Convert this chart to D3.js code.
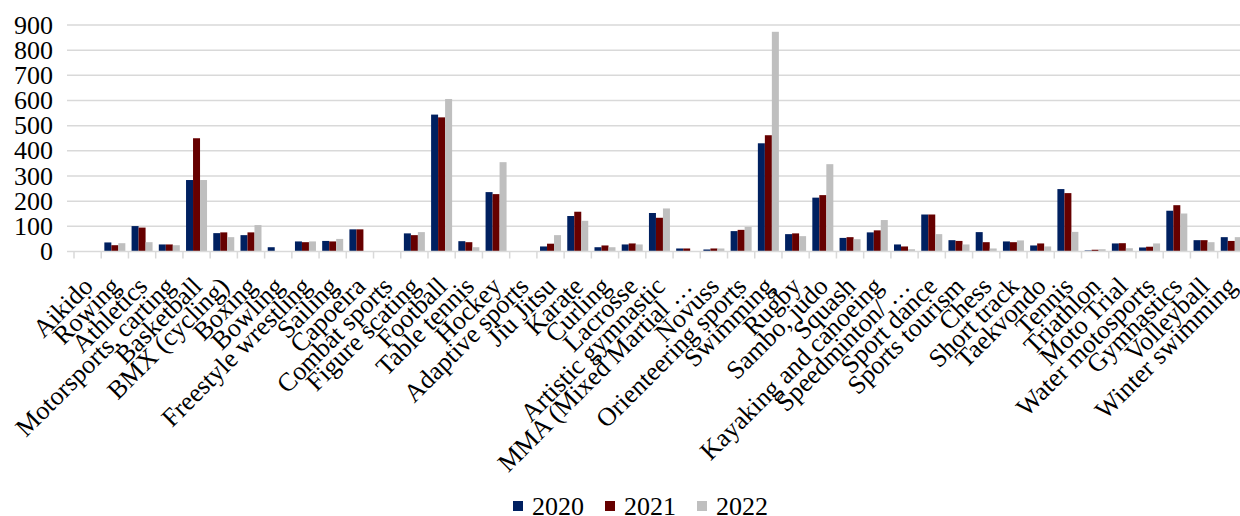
<!DOCTYPE html>
<html>
<head>
<meta charset="utf-8">
<script src="https://cdn.jsdelivr.net/npm/d3@7"></script>
<style>
  body { margin: 0; background: #fff; }
  svg { display: block; font-family: "Liberation Serif", "Times New Roman", serif; }
</style>
</head>
<body>
<div id="chart"></div>
<script>
// categories and values
var categories = ["Aikido", "Rowing", "Athletics", "Motorsports, carting", "Basketball",
  "BMX (cycling)", "Boxing", "Bowling", "Freestyle wrestling", "Sailing", "Capoeira",
  "Combat sports", "Figure scating", "Football", "Table tennis", "Hockey", "Adaptive sports",
  "Jiu Jitsu", "Karate", "Curling", "Lacrosse", "Artistic gymnastic", "MMA (Mixed Martial …",
  "Novuss", "Orienteering sports", "Swimming", "Rugby", "Sambo, judo", "Squash",
  "Kayaking and canoeing", "Speedminton/ …", "Sport dance", "Sports tourism", "Chess",
  "Short track", "Taekvondo", "Tennis", "Triathlon", "Moto Trial", "Water motosports",
  "Gymnastics", "Volleyball", "Winter swimming"];

var years = ["2020", "2021", "2022"];

var values2020 = [0, 36, 101, 28, 284, 73, 65, 17, 40, 42, 88, 0, 72, 544, 41, 236, 0,
  20, 141, 17, 28, 153, 12, 8, 81, 430, 69, 214, 54, 76, 28, 147, 45, 77, 40, 24, 248,
  4, 32, 16, 162, 45, 57];
var values2021 = [0, 25, 95, 28, 450, 76, 76, 0, 37, 40, 88, 0, 65, 533, 37, 228, 0,
  31, 158, 24, 32, 134, 12, 12, 86, 462, 72, 224, 57, 84, 20, 147, 42, 37, 37, 32, 232,
  7, 33, 19, 184, 45, 42];
var values2022 = [0, 33, 37, 25, 284, 57, 105, 0, 40, 50, 0, 0, 77, 606, 17, 355, 0,
  65, 122, 17, 28, 171, 0, 12, 98, 873, 61, 347, 49, 125, 9, 69, 28, 12, 44, 20, 78,
  9, 13, 32, 151, 37, 57];

var yTicks = [0, 100, 200, 300, 400, 500, 600, 700, 800, 900];
var colors = ["#002060", "#660000", "#bfbfbf"];

var series = [values2020, values2021, values2022];
var data = categories.map(function (c, i) {
  return { name: c, vals: series.map(function (s) { return s[i]; }) };
});

var W = 1240, H = 516;
var plotLeft = 74, step = 27.23, plotTop = 25, plotBottom = 251.5;

var svg = d3.select("#chart").append("svg")
  .attr("width", W)
  .attr("height", H);

var x0 = d3.scaleBand()
  .domain(categories)
  .range([plotLeft, plotLeft + step * categories.length])
  .padding(0);

var x1 = d3.scaleBand()
  .domain(years)
  .range([0, x0.bandwidth()])
  .paddingInner(0)
  .paddingOuter(0.445);

var y = d3.scaleLinear()
  .domain([0, 900])
  .range([plotBottom, plotTop]);

// gridlines
svg.append("g")
  .selectAll("line")
  .data(yTicks.slice(1))
  .enter()
  .append("line")
  .attr("x1", 67)
  .attr("x2", W)
  .attr("y1", function (d) { return y(d); })
  .attr("y2", function (d) { return y(d); })
  .attr("stroke", "#d9d9d9")
  .attr("stroke-width", 1.5);

// y labels
svg.append("g")
  .selectAll("text")
  .data(yTicks)
  .enter()
  .append("text")
  .attr("x", 53)
  .attr("y", function (d) { return y(d); })
  .attr("dy", "0.33em")
  .attr("text-anchor", "end")
  .attr("font-size", 26)
  .attr("fill", "#000")
  .text(function (d) { return d; });

// bars
var groups = svg.append("g")
  .selectAll("g")
  .data(data)
  .enter()
  .append("g")
  .attr("transform", function (d) { return "translate(" + x0(d.name) + ",0)"; });

groups.selectAll("rect")
  .data(function (d) { return d.vals.map(function (v, i) { return { year: years[i], v: v, i: i }; }); })
  .enter()
  .filter(function (d) { return d.v > 0; })
  .append("rect")
  .attr("x", function (d) { return x1(d.year); })
  .attr("width", x1.bandwidth())
  .attr("y", function (d) { return y(d.v); })
  .attr("height", function (d) { return y(0) - y(d.v); })
  .attr("fill", function (d) { return colors[d.i]; });

// x axis line + ticks
svg.append("line")
  .attr("x1", 67)
  .attr("x2", W)
  .attr("y1", y(0))
  .attr("y2", y(0))
  .attr("stroke", "#d9d9d9")
  .attr("stroke-width", 1.5);

svg.append("g")
  .selectAll("line")
  .data(d3.range(categories.length + 1))
  .enter()
  .append("line")
  .attr("x1", function (i) { return plotLeft + i * step; })
  .attr("x2", function (i) { return plotLeft + i * step; })
  .attr("y1", y(0))
  .attr("y2", y(0) + 7)
  .attr("stroke", "#d9d9d9")
  .attr("stroke-width", 1.5);

// category labels, rotated
svg.append("g")
  .selectAll("text")
  .data(categories)
  .enter()
  .append("text")
  .attr("transform", function (d) {
    return "translate(" + (x0(d) + x0.bandwidth() / 2 - 6) + "," + 275 + ") rotate(-45)";
  })
  .attr("dy", "0.7em")
  .attr("text-anchor", "end")
  .attr("font-size", 26)
  .attr("fill", "#000")
  .text(function (d) { return d; });

// legend
var legend = svg.append("g")
  .attr("transform", "translate(513,506)");
var legX = [0, 92, 184];
years.forEach(function (yr, i) {
  legend.append("rect")
    .attr("x", legX[i])
    .attr("y", -5)
    .attr("width", 10)
    .attr("height", 10)
    .attr("fill", colors[i]);
  legend.append("text")
    .attr("x", legX[i] + 19)
    .attr("y", 0)
    .attr("dy", "0.35em")
    .attr("font-size", 26)
    .attr("fill", "#000")
    .text(yr);
});
</script>
</body>
</html>
